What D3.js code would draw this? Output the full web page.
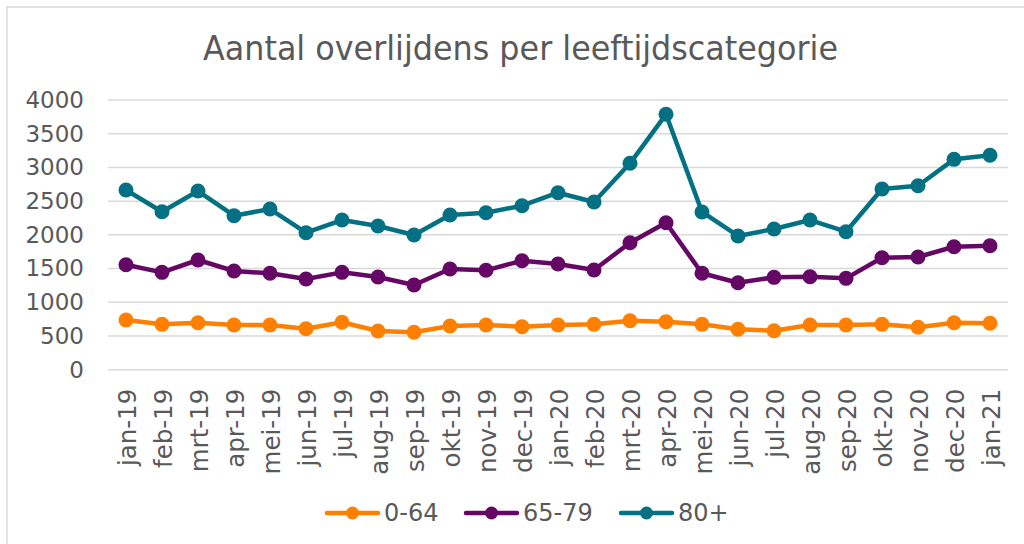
<!DOCTYPE html>
<html><head><meta charset="utf-8">
<script src="https://cdn.jsdelivr.net/npm/d3@7"></script>
<style>body{margin:0;background:#fff}svg{display:block}</style>
</head><body>
<svg id="c" width="1024" height="544"></svg>
<script>
const months = ["jan-19","feb-19","mrt-19","apr-19","mei-19","jun-19","jul-19","aug-19","sep-19","okt-19","nov-19","dec-19","jan-20","feb-20","mrt-20","apr-20","mei-20","jun-20","jul-20","aug-20","sep-20","okt-20","nov-20","dec-20","jan-21"];
const age0_64 = [737,673,697,663,663,608,703,574,555,648,663,638,663,673,727,712,673,599,578,663,663,673,629,697,688];
const age65_79 = [1557,1444,1627,1464,1430,1345,1444,1375,1256,1493,1474,1616,1568,1479,1883,2180,1430,1290,1370,1379,1355,1661,1671,1824,1839];
const age80plus = [2665,2343,2650,2284,2383,2032,2220,2131,1998,2294,2328,2432,2625,2487,3061,3788,2339,1983,2087,2220,2047,2680,2729,3120,3180];
const yTicks = [0,500,1000,1500,2000,2500,3000,3500,4000];
const seriesNames = ["0-64","65-79","80+"];
const seriesColors = ["#FF8000","#650764","#037183"];
const title = "Aantal overlijdens per leeftijdscategorie";

const series = [age0_64, age65_79, age80plus].map((v,i)=>({name:seriesNames[i], color:seriesColors[i], values:v}));
const svg = d3.select("#c");
const textColor = "#595959";
const font = "'DejaVu Sans', Verdana, sans-serif";

// chart border
svg.append("rect").attr("x",7).attr("y",7).attr("width",1030).attr("height",560)
  .attr("fill","#fff").attr("stroke","#d9d9d9").attr("stroke-width",1.5);

const x = d3.scaleBand().domain(months).range([108,1008]);
const y = d3.scaleLinear().domain([0,4000]).range([369.7,100]);

// title
svg.append("text").attr("x",520.5).attr("y",60).attr("text-anchor","middle")
  .attr("font-family",font).attr("font-size",33).attr("fill",textColor)
  .attr("textLength",635).attr("lengthAdjust","spacingAndGlyphs").text(title);

// gridlines
svg.append("g").selectAll("line").data(yTicks).join("line")
  .attr("x1",108).attr("x2",1008).attr("y1",d=>y(d)).attr("y2",d=>y(d))
  .attr("stroke","#d9d9d9").attr("stroke-width",1.5);

// y axis labels
const yAxis = svg.append("g").attr("transform","translate(108,0)")
  .call(d3.axisLeft(y).tickValues(yTicks).tickSize(0).tickPadding(24).tickFormat(d3.format("d")));
yAxis.select(".domain").remove();
yAxis.selectAll("text").attr("font-family",font).attr("font-size",23).attr("fill",textColor);

// x axis labels
const xAxis = svg.append("g").attr("transform","translate(0,369.7)")
  .call(d3.axisBottom(x).tickSize(0).tickPadding(0));
xAxis.select(".domain").remove();
xAxis.selectAll("text").attr("font-family",font).attr("font-size",24.5).attr("fill",textColor)
  .attr("text-anchor","end").attr("dy","0.35em")
  .attr("transform","translate(1,19) rotate(-90)").attr("x",0).attr("y",0);

// lines
const line = d3.line().x((d,i)=>x(months[i])+x.bandwidth()/2).y(d=>y(d));
const g = svg.append("g");
series.forEach(s=>{
  g.append("path").attr("d",line(s.values)).attr("fill","none")
    .attr("stroke",s.color).attr("stroke-width",4.5).attr("stroke-linejoin","round").attr("stroke-linecap","round");
  g.append("g").selectAll("circle").data(s.values).join("circle")
    .attr("cx",(d,i)=>x(months[i])+x.bandwidth()/2).attr("cy",d=>y(d)).attr("r",7.5).attr("fill",s.color);
});

// legend
const legendX = [325,464,619];
const leg = svg.append("g");
series.forEach((s,i)=>{
  const lg = leg.append("g").attr("transform",`translate(${legendX[i]},513)`);
  lg.append("line").attr("x1",2).attr("x2",53).attr("y1",0).attr("y2",0)
    .attr("stroke",s.color).attr("stroke-width",4.5).attr("stroke-linecap","round");
  lg.append("circle").attr("cx",27.5).attr("cy",0).attr("r",6.5).attr("fill",s.color);
  lg.append("text").attr("x",59).attr("y",0).attr("dy","0.35em")
    .attr("font-family",font).attr("font-size",24).attr("fill",textColor).text(s.name);
});
</script>
</body></html>
